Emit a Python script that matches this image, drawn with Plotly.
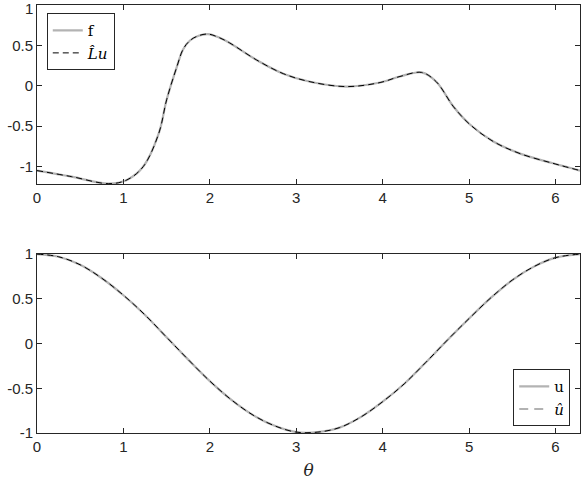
import plotly.graph_objects as go
from plotly.subplots import make_subplots

THETA_F = [0, 0.4, 0.83, 1.04, 1.23, 1.41, 1.50, 1.62, 1.69, 1.77, 1.87, 1.98, 2.1, 2.23, 2.54, 2.85,
           3.16, 3.58, 3.97, 4.2, 4.45, 4.62, 4.82, 5.01, 5.28, 5.59, 5.97, 6.2832]
F_VALUES = [-1.05, -1.125, -1.212, -1.166, -1.0, -0.587, -0.174, 0.24, 0.45, 0.56, 0.62, 0.64, 0.60, 0.53, 0.32, 0.15,
            0.05, -0.01, 0.04, 0.115, 0.165, 0.05, -0.26, -0.48, -0.69, -0.84, -0.96, -1.05]
LU_VALUES = F_VALUES

THETA_U = [0, 0.25, 0.5, 0.75, 1, 1.25, 1.5, 1.75, 2, 2.25, 2.5, 2.75, 3, 3.25, 3.5,
           3.75, 4, 4.25, 4.5, 4.75, 5, 5.25, 5.5, 5.75, 6, 6.2832]
U_VALUES = [1.00, 0.97, 0.88, 0.73, 0.54, 0.32, 0.07, -0.18, -0.42, -0.63, -0.80, -0.92, -0.99,
            -0.99, -0.94, -0.82, -0.65, -0.45, -0.21, 0.04, 0.28, 0.51, 0.71, 0.86, 0.96, 1.00]
U_HAT_VALUES = U_VALUES

X_TICKS = [0, 1, 2, 3, 4, 5, 6]
Y_TICKS = [-1, -0.5, 0, 0.5, 1]
Y_TICK_TEXT = ["-1", "-0.5", "0", "0.5", "1"]

GRIS = "#b3b3b3"
EJE = "#262626"
FUENTE_EJE = dict(family="Liberation Sans, Arial, sans-serif", size=15, color=EJE)
SUAVE = dict(shape="spline", smoothing=1.0)

fig = make_subplots(rows=2, cols=1)

fig.add_trace(go.Scatter(x=THETA_F, y=F_VALUES, mode="lines", name="f",
                         line=dict(color=GRIS, width=2.2, **SUAVE), legend="legend"), row=1, col=1)
fig.add_trace(go.Scatter(x=THETA_F, y=LU_VALUES, mode="lines", name="<i>L̂u</i>",
                         line=dict(color="#000000", width=1, dash="6px,4px", **SUAVE),
                         legend="legend"), row=1, col=1)

fig.add_trace(go.Scatter(x=THETA_U, y=U_VALUES, mode="lines", name="u",
                         line=dict(color=GRIS, width=2.2, **SUAVE), legend="legend2"), row=2, col=1)
fig.add_trace(go.Scatter(x=THETA_U, y=U_HAT_VALUES, mode="lines", showlegend=False,
                         line=dict(color="#000000", width=1, dash="6px,4px", **SUAVE),
                         legend="legend2"), row=2, col=1)
# legend sample for u-hat is drawn gray in the original
fig.add_trace(go.Scatter(x=[None], y=[None], mode="lines", name="<i>û</i>",
                         line=dict(color="#999999", width=1.5, dash="9px,6px"),
                         legend="legend2"), row=2, col=1)

axis_style = dict(
    showline=True, linecolor=EJE, linewidth=1, mirror="ticks",
    ticks="inside", ticklen=5, tickcolor=EJE, tickwidth=1,
    showgrid=False, zeroline=False, automargin=False,
    tickfont=FUENTE_EJE,
)
fig.update_xaxes(**axis_style, range=[0, 6.2832], tickvals=X_TICKS)
fig.update_yaxes(**axis_style, tickvals=Y_TICKS, ticktext=Y_TICK_TEXT)
# top label "1" sits at the page edge: drawn as an annotation, pushed down a bit like MATLAB does
fig.update_yaxes(range=[-1.215, 1], domain=[0.582, 1], ticktext=Y_TICK_TEXT[:-1] + [""], row=1, col=1)
fig.add_annotation(text=Y_TICK_TEXT[-1], xref="paper", x=0, xanchor="right", xshift=-2,
                   yref="paper", y=1, yanchor="middle", yshift=-3, showarrow=False,
                   font=FUENTE_EJE)
fig.update_yaxes(range=[-1, 1], domain=[0, 0.418], row=2, col=1)
fig.update_xaxes(title=dict(text="<i>θ</i>", standoff=10,
                            font=dict(family="DejaVu Serif, serif", size=17, color=EJE)),
                 row=2, col=1)

legend_style = dict(
    bgcolor="white", bordercolor=EJE, borderwidth=1,
    font=dict(family="DejaVu Serif, serif", size=15, color="#000000"),
    tracegroupgap=0, itemwidth=30,
)
fig.update_layout(
    width=581, height=481, template="plotly_white",
    margin=dict(l=37, r=1, t=5, b=48),
    paper_bgcolor="white", plot_bgcolor="white",
    legend=dict(**legend_style, x=0.018, y=0.981, xanchor="left", yanchor="top"),
    legend2=dict(**legend_style, x=0.982, y=0.016, xanchor="right", yanchor="bottom"),
)

fig.write_html("out.html", config={"displayModeBar": False},
               post_script="document.body.style.margin='0';")
